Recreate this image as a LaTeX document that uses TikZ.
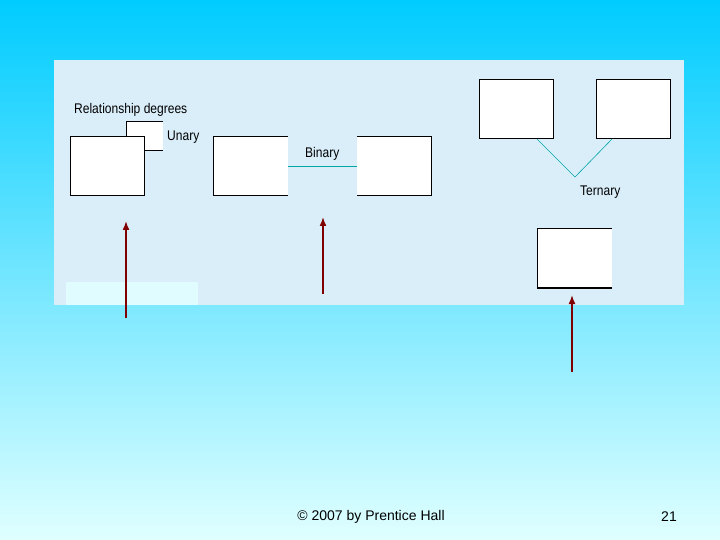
\documentclass[tikz,border=0pt]{standalone}
\usepackage{fontspec}
\setmainfont{Liberation Sans}
\usetikzlibrary{arrows.meta}
\begin{document}
\begin{tikzpicture}[x=1pt,y=-1pt,
  ent/.style={fill=white,draw=black,line width=0.8pt},
  lbl/.style={anchor=west,inner sep=0pt,font=\fontsize{14}{16}\selectfont,xscale=0.86,transform shape},
  rel/.style={draw=teal!70!cyan,line width=0.6pt},
  arr/.style={draw=red!50!black,line width=1.6pt,-{Latex[length=9pt,width=7pt]}}]
\useasboundingbox (0,0) rectangle (720,540);
\shade[top color={rgb,255:red,0;green,204;blue,255},bottom color={rgb,255:red,224;green,255;blue,255}] (0,0) rectangle (720,540);
\fill[fill={rgb,255:red,218;green,238;blue,250}] (54,60) rectangle (684,305);
\fill[fill={rgb,255:red,224;green,252;blue,255}] (66,282) rectangle (198,305);
% unary
\fill[white] (126,121) rectangle (163,150);
\draw[line width=0.8pt] (163,121) -- (126,121) -- (126,136);
\draw[line width=0.8pt] (144,150) -- (163,150);
\node[ent,minimum width=74pt,minimum height=59pt,anchor=north west] (u) at (70,136) {};
\node[lbl] (rd) at (74,110) {Relationship degrees};
\node[lbl] (ul) at (167,137) {Unary};
% binary
\fill[white] (213,136) rectangle (288,195);
\draw[line width=0.8pt] (288,136) -- (213,136) -- (213,195) -- (288,195);
\fill[white] (357,136) rectangle (431,195);
\draw[line width=0.8pt] (357,136) -- (431,136) -- (431,195) -- (357,195);
\coordinate (b1) at (288,166); \coordinate (b2) at (357,166);
\draw[rel] (b1) -- (b2);
\node[lbl] (bl) at (305,154) {Binary};
% ternary
\node[ent,minimum width=74pt,minimum height=59pt,anchor=north west] (t1) at (479,79) {};
\node[ent,minimum width=74pt,minimum height=59pt,anchor=north west] (t2) at (596,79) {};
\coordinate (tv) at (575,177);
\draw[rel] (537,139) -- (tv) -- (612,139);
\node[lbl] (tl) at (580,192) {Ternary};
\fill[white] (537,228) rectangle (612,288);
\draw[line width=0.8pt] (612,228) -- (537,228) -- (537,288);
\draw[line width=1.5pt] (537,288) -- (612,288);
% arrows
\coordinate (a1) at (126,318); \coordinate (a1e) at (126,221);
\coordinate (a2) at (323,294); \coordinate (a2e) at (323,217);
\coordinate (a3) at (572,372); \coordinate (a3e) at (572,295);
\draw[arr] (a1) -- (a1e);
\draw[arr] (a2) -- (a2e);
\draw[arr] (a3) -- (a3e);
\node[font=\fontsize{14}{16}\selectfont] (f) at (371,517) {© 2007 by Prentice Hall};
\node[font=\fontsize{14}{16}\selectfont] (p) at (669,517) {21};
\end{tikzpicture}
\end{document}
